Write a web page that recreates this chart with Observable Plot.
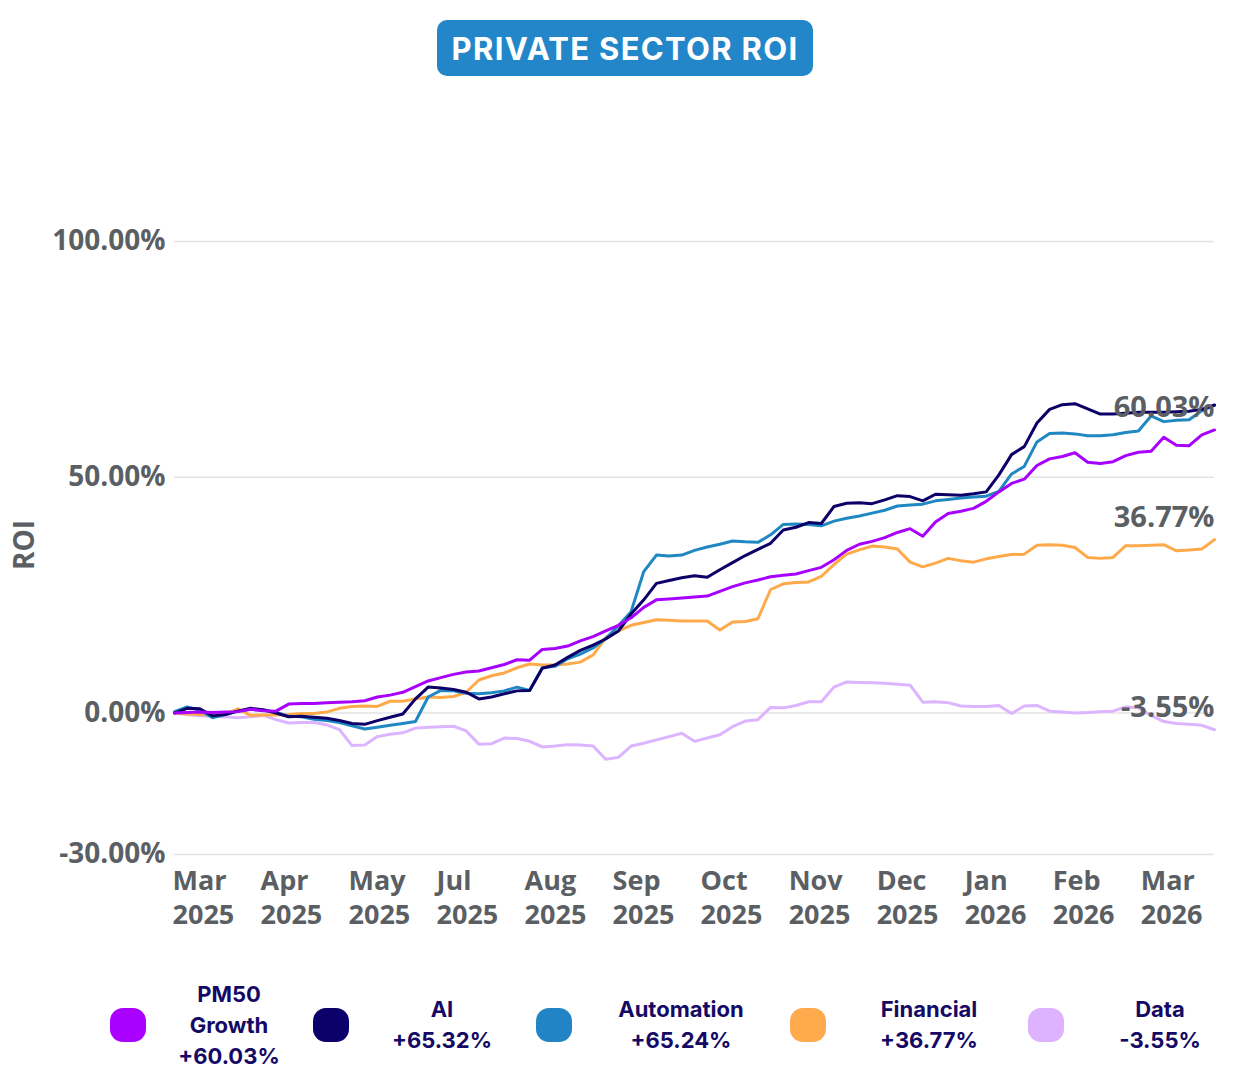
<!DOCTYPE html>
<html>
<head>
<meta charset="utf-8">
<script src="https://cdn.jsdelivr.net/npm/d3@7"></script>
<script src="https://cdn.jsdelivr.net/npm/@observablehq/plot@0.6"></script>
<style>
  html, body { margin: 0; padding: 0; background: #fff; }
  body { width: 1247px; height: 1078px; position: relative; overflow: hidden; font-family: "Open Sans", sans-serif; }
  #title { position: absolute; left: 437px; top: 20px; width: 376px; height: 56px; background: #2386c8; border-radius: 10px;
           color: #fff; font-family: Inter, "Open Sans", sans-serif; font-weight: 700; font-size: 31px; letter-spacing: 1.3px;
           display: flex; align-items: center; justify-content: center; }
  #chart { position: absolute; left: 0; top: 100px; }
  #legend { position: absolute; left: 0; top: 0; width: 1247px; height: 1078px; pointer-events: none; }
  .sw { position: absolute; width: 36px; height: 34px; border-radius: 13px; top: 1008px; }
  .lt { position: absolute; width: 220px; text-align: center; color: #140a66; font-family: Inter, "Noto Sans", sans-serif;
        font-weight: 700; font-size: 22px; line-height: 31px; }
</style>
</head>
<body>
<div id="title">PRIVATE SECTOR ROI</div>
<div id="chart"></div>
<div id="legend"></div>
<script>
// ---- data (ROI %, sampled every ~3 trading days, Mar 2025 → Mar 2026) ----
const seriesNames = ["PM50 Growth", "AI", "Automation", "Financial", "Data"];
const seriesColors = ["#a800ff", "#0c0068", "#1f88c2", "#ffaa4a", "#dcb4ff"];
const legendColors = ["#aa00ff", "#0c006b", "#2185c5", "#ffab4d", "#ddb3ff"];
const finalReturns = ["+60.03%", "+65.32%", "+65.24%", "+36.77%", "-3.55%"];

const pm50 = [0,0.1,0.2,0.1,0.2,0.3,0.8,0.5,0.4,1.9,2.0,2.0,2.2,2.3,2.4,2.6,3.4,3.8,4.4,5.6,6.8,7.5,8.2,8.7,8.9,9.6,10.3,11.3,11.2,13.5,13.7,14.2,15.3,16.2,17.4,18.6,20.2,22.4,24.0,24.2,24.4,24.6,24.8,25.8,26.8,27.6,28.2,28.9,29.2,29.5,30.2,30.9,32.5,34.5,35.8,36.4,37.2,38.3,39.1,37.5,40.5,42.3,42.8,43.4,44.9,46.9,48.7,49.6,52.5,53.9,54.4,55.2,53.2,52.9,53.3,54.6,55.3,55.5,58.5,56.8,56.7,59.0,60.03];
const ai = [0,1.0,0.9,-0.6,-0.3,0.4,1.0,0.7,0.0,-0.8,-0.7,-0.9,-1.1,-1.6,-2.2,-2.4,-1.6,-0.9,-0.2,3.0,5.5,5.3,5.0,4.4,3.0,3.4,4.1,4.7,4.8,9.5,10.2,11.8,13.3,14.4,15.7,17.4,21.0,24.0,27.5,28.1,28.7,29.1,28.8,30.4,31.9,33.4,34.7,36.0,38.8,39.4,40.4,40.2,43.8,44.5,44.6,44.4,45.2,46.1,45.9,45.0,46.4,46.3,46.2,46.5,46.9,50.5,54.8,56.5,61.5,64.4,65.4,65.6,64.5,63.4,63.4,63.6,63.8,63.8,63.8,63.9,64.0,64.4,65.32];
const automation = [0.3,1.3,0.6,-1.0,-0.3,0.4,0.8,0.6,0.2,-0.7,-0.8,-1.3,-1.6,-2.0,-2.7,-3.4,-3.0,-2.6,-2.2,-1.8,3.4,4.8,4.7,4.2,4.1,4.3,4.7,5.5,4.8,9.6,9.9,11.5,12.5,13.8,15.8,18.5,21.5,30.0,33.5,33.3,33.5,34.5,35.2,35.8,36.5,36.3,36.2,37.8,40.0,40.1,40.0,39.7,40.7,41.3,41.8,42.4,43.0,43.9,44.1,44.3,45.0,45.3,45.6,45.8,46.0,47.0,50.7,52.3,57.5,59.3,59.4,59.2,58.8,58.8,59.0,59.5,59.8,63.0,61.8,62.1,62.2,64.1,65.24];
const financial = [0,-0.2,-0.3,-0.4,-0.3,0.9,-0.5,-0.4,-0.4,-0.3,-0.1,-0.1,0.2,1.0,1.4,1.5,1.4,2.5,2.5,3.0,3.4,3.3,3.5,4.4,7.0,7.9,8.5,9.6,10.4,10.2,10.2,10.4,10.8,12.3,16.0,17.4,18.6,19.2,19.8,19.7,19.5,19.5,19.5,17.6,19.3,19.4,20.0,26.2,27.4,27.7,27.8,29.0,31.5,33.7,34.6,35.4,35.2,34.8,32.0,31.0,31.8,32.8,32.3,32.0,32.7,33.2,33.6,33.7,35.6,35.7,35.6,35.1,33.0,32.8,33.0,35.5,35.5,35.6,35.7,34.4,34.6,34.8,36.77];
const dataSector = [0,-0.3,-0.6,-0.7,-0.8,-1.0,-0.8,-0.5,-1.4,-2.1,-2.0,-2.0,-2.5,-3.5,-6.9,-6.8,-5.0,-4.5,-4.2,-3.2,-3.0,-2.9,-2.8,-3.8,-6.6,-6.5,-5.3,-5.4,-6.0,-7.2,-7.0,-6.7,-6.8,-7.0,-9.8,-9.4,-7.0,-6.4,-5.7,-5.0,-4.3,-6.0,-5.3,-4.6,-2.9,-1.7,-1.4,1.2,1.1,1.6,2.4,2.4,5.5,6.6,6.5,6.4,6.3,6.1,5.9,2.3,2.4,2.2,1.5,1.4,1.4,1.6,-0.1,1.5,1.6,0.4,0.2,0.0,0.1,0.3,0.4,1.3,1.1,-0.5,-1.8,-2.2,-2.4,-2.6,-3.55];

const monthLabels = ["Mar\n2025","Apr\n2025","May\n2025","Jul\n2025","Aug\n2025","Sep\n2025","Oct\n2025","Nov\n2025","Dec\n2025","Jan\n2026","Feb\n2026","Mar\n2026"];
const monthTickPos = [0,6.94,13.88,20.82,27.76,34.7,41.64,48.58,55.52,62.46,69.4,76.34];
const yTicks = [-30, 0, 50, 100];
const endLabelSeries = ["PM50 Growth", "Financial", "Data"];

// ---- build table ----
const allValues = [pm50, ai, automation, financial, dataSector];
const rows = [];
allValues.forEach((vals, s) => vals.forEach((v, i) => rows.push({series: seriesNames[s], i, v})));
const lastIndex = pm50.length - 1;
const endRows = endLabelSeries.map(name => {
  const s = seriesNames.indexOf(name);
  const v = allValues[s][lastIndex];
  return {series: name, i: lastIndex, v, label: v.toFixed(2) + "%"};
});

const gray = "#5b5f63";
const drawOrder = ["Data", "Financial", "Automation", "AI", "PM50 Growth"];

const marks = [
  Plot.ruleY(yTicks, {stroke: "#e3e3e3", strokeWidth: 1.6}),
  Plot.axisY(yTicks, {tickSize: 0, tickPadding: 9, tickFormat: d => d.toFixed(2) + "%", fontSize: 28, fontWeight: 700, fill: gray, label: null}),
  Plot.axisX(monthTickPos, {tickSize: 0, tickPadding: 12, tickFormat: d => monthLabels[monthTickPos.indexOf(d)], textAnchor: "start",
    fontSize: 27, fontWeight: 700, fill: gray, lineHeight: 1.24, dx: -2, label: null}),
  Plot.text(["ROI"], {frameAnchor: "left", dx: -149, dy: 22, rotate: -90, fontSize: 28, fontWeight: 700, fill: gray})
];
drawOrder.forEach(name => {
  const s = seriesNames.indexOf(name);
  marks.push(Plot.line(rows.filter(r => r.series === name), {x: "i", y: "v", stroke: seriesColors[s], strokeWidth: 3, strokeLinejoin: "round"}));
});
marks.push(Plot.text(endRows, {x: "i", y: "v", text: "label", textAnchor: "end", lineAnchor: "bottom", dy: -13, fontSize: 29, fontWeight: 700, fill: gray}));

const chart = Plot.plot({
  width: 1247,
  height: 845,
  marginLeft: 174,
  marginRight: 33,
  marginTop: 141,
  marginBottom: 91,
  style: {fontFamily: "'Open Sans', sans-serif", background: "#fff", overflow: "visible"},
  x: {domain: [0, lastIndex]},
  y: {domain: [-30, 100]},
  marks
});
document.getElementById("chart").appendChild(chart);

// ---- legend ----
const swatchLeft = [110, 313, 536, 790, 1028];
const textCenter = [229, 442, 681, 929, 1160];
const legendLines = [["PM50", "Growth", finalReturns[0]], ["AI", finalReturns[1]], ["Automation", finalReturns[2]], ["Financial", finalReturns[3]], ["Data", finalReturns[4]]];
const legend = document.getElementById("legend");
seriesNames.forEach((name, s) => {
  const sw = document.createElement("div");
  sw.className = "sw";
  sw.style.left = swatchLeft[s] + "px";
  sw.style.background = legendColors[s];
  legend.appendChild(sw);
  const t = document.createElement("div");
  t.className = "lt";
  const lines = legendLines[s];
  t.style.left = (textCenter[s] - 110) + "px";
  t.style.top = (1025 - lines.length * 31 / 2) + "px";
  t.innerHTML = lines.join("<br>");
  legend.appendChild(t);
});
</script>
</body>
</html>
